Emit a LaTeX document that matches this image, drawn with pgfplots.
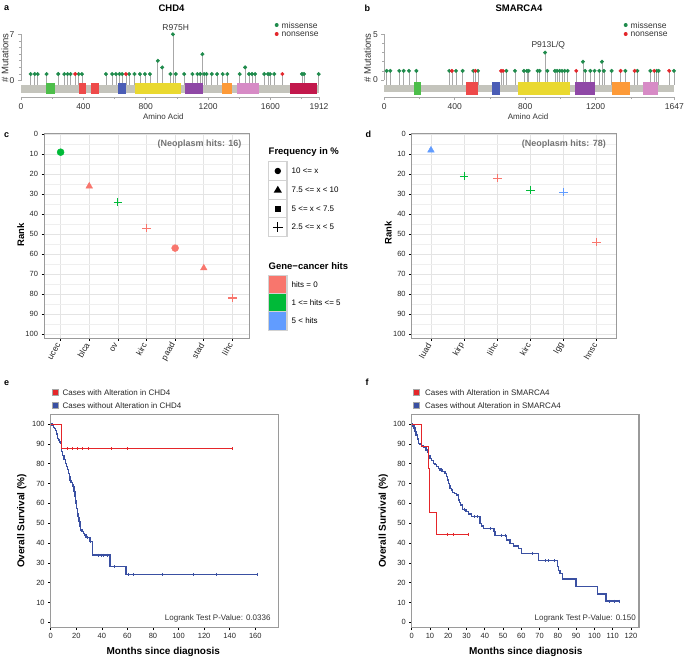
\documentclass[border=0pt]{standalone}
\usepackage{pgfplots}
\usepackage{pgfplotstable}
\pgfplotsset{compat=1.18}
\usepackage{fontspec}
\setmainfont{Liberation Sans}
\newcommand{\fs}[1]{\fontsize{#1}{#1}\selectfont}
\definecolor{cSal}{HTML}{F8766D}
\definecolor{cGrn}{HTML}{00BA38}
\definecolor{cBlu}{HTML}{619CFF}
\definecolor{missG}{HTML}{1F8B4C}
\definecolor{nonR}{HTML}{E3262B}
\definecolor{stemG}{HTML}{A8A8A8}
\definecolor{barG}{HTML}{C4C4BC}
\definecolor{dGreen}{HTML}{4DBE4A}
\definecolor{dRed}{HTML}{EE4A4A}
\definecolor{dBlue}{HTML}{4B5DB6}
\definecolor{dYellow}{HTML}{EAD930}
\definecolor{dPurple}{HTML}{8F48A6}
\definecolor{dOrange}{HTML}{FD9A38}
\definecolor{dPink}{HTML}{D78BC6}
\definecolor{dCrimson}{HTML}{C2184C}
\definecolor{kmRed}{HTML}{E5262A}
\definecolor{kmBlue}{HTML}{3A50A2}
\definecolor{frameG}{HTML}{9A9A9A}
\definecolor{gridG}{HTML}{E4E4E4}
\pgfplotsset{every axis/.append style={/pgf/number format/assume math mode=true, /pgf/number format/1000 sep={}}}

\pgfplotstableread{
x h
62 1
88 1
107 1
164 1
239 1
278 1
299 1
318 1
370 1
391 1
545 1
585 1
609 1
632 1
649 1
694 1
728 1
763 1
795 1
827 1
878 3
906 2
959 1
975 7
993 1
1047 1
1100 1
1132 1
1150 1
1164 4
1175 1
1190 1
1224 1
1258 1
1294 1
1324 1
1403 1
1438 2
1463 1
1482 1
1502 1
1561 1
1585 1
1598 1
1625 1
1803 1
1816 1
1910 1
}\chdmis
\pgfplotstableread{
x h
348 1
673 1
1677 1
}\chdnon
\pgfplotstableread{
x h
13 1
34 1
85 1
110 1
140 1
182 1
369 1
407 1
445 1
505 1
532 1
693 1
742 1
793 1
810 1
820 1
871 1
882 1
913 3
926 1
969 1
981 1
996 1
1009 1
1024 1
1041 1
1128 2
1141 1
1170 1
1194 1
1221 1
1236 2
1247 1
1291 1
1369 1
1437 1
1511 1
1547 1
1558 1
1645 1
}\smamis
\pgfplotstableread{
x h
384 1
517 1
663 1
674 1
1090 1
1342 1
1422 1
1533 1
1618 1
}\smanon

\begin{document}
\begin{tikzpicture}
\path[use as bounding box] (0pt,0pt) rectangle (685pt,-657pt);

% ---------------- panel a
\def\dtop{-0.35}\def\dbot{-2.01}
\begin{axis}[
  at={(21pt,-34.3pt)}, anchor=north west,
  scale only axis, width=298pt, height=62.7pt,
  xmin=0, xmax=1912, ymin=-2.47, ymax=7, clip=false,
  axis x line*=bottom, axis y line*=left,
  x axis line style={draw=stemG, line width=0.8pt, -},
  y axis line style={draw=none, -},
  xtick={0,400,800,1200,1600,1912}, ytick={0,7},
  minor xtick={200,600,1000,1400,1800}, minor ytick={1,...,6},
  tick align=outside, major tick length=3pt, minor tick length=2pt,
  tick style={draw=stemG, line width=0.6pt},
  xticklabel style={font=\fs{8.5}, text=black!80},
  yticklabel style={font=\fs{8.5}, text=black!80},
]
\addplot[stemG, line width=0.7pt, quiver={u=0, v=\thisrow{h}+0.65}] table[x=x, y expr=-0.65] {\chdmis};
\addplot[stemG, line width=0.7pt, quiver={u=0, v=\thisrow{h}+0.65}] table[x=x, y expr=-0.65] {\chdnon};
\draw[stemG, line width=0.8pt] (axis cs:0,0) -- (axis cs:0,7);
\fill[barG] (axis cs:0,-0.65) rectangle (axis cs:1912,-1.81);
\fill[dGreen] (axis cs:160,\dtop) rectangle (axis cs:218,\dbot);
\fill[dRed] (axis cs:370,\dtop) rectangle (axis cs:419,\dbot);
\fill[dRed] (axis cs:451,\dtop) rectangle (axis cs:498,\dbot);
\fill[dBlue] (axis cs:622,\dtop) rectangle (axis cs:673,\dbot);
\fill[dYellow] (axis cs:731,\dtop) rectangle (axis cs:1025,\dbot);
\fill[dPurple] (axis cs:1051,\dtop) rectangle (axis cs:1168,\dbot);
\fill[dOrange] (axis cs:1292,\dtop) rectangle (axis cs:1354,\dbot);
\fill[dPink] (axis cs:1384,\dtop) rectangle (axis cs:1525,\dbot);
\fill[dCrimson] (axis cs:1728,\dtop) rectangle (axis cs:1899,\dbot);
\addplot[only marks, mark=*, mark size=1.8pt, missG] table[x=x, y=h] {\chdmis};
\addplot[only marks, mark=*, mark size=1.8pt, nonR] table[x=x, y=h] {\chdnon};
\end{axis}

% ---------------- panel b
\def\dtop{-0.27}\def\dbot{-1.64}
\begin{axis}[
  at={(384.3pt,-34.3pt)}, anchor=north west,
  scale only axis, width=290pt, height=62.7pt,
  xmin=0, xmax=1647, ymin=-1.86, ymax=5, clip=false,
  axis x line*=bottom, axis y line*=left,
  x axis line style={draw=stemG, line width=0.8pt, -},
  y axis line style={draw=none, -},
  xtick={0,400,800,1200,1647}, ytick={0,5},
  minor xtick={200,600,1000,1400}, minor ytick={1,...,4},
  tick align=outside, major tick length=3pt, minor tick length=2pt,
  tick style={draw=stemG, line width=0.6pt},
  xticklabel style={font=\fs{8.5}, text=black!80},
  yticklabel style={font=\fs{8.5}, text=black!80},
]
\addplot[stemG, line width=0.7pt, quiver={u=0, v=\thisrow{h}+0.55}] table[x=x, y expr=-0.55] {\smamis};
\addplot[stemG, line width=0.7pt, quiver={u=0, v=\thisrow{h}+0.55}] table[x=x, y expr=-0.55] {\smanon};
\draw[stemG, line width=0.8pt] (axis cs:0,0) -- (axis cs:0,5);
\fill[barG] (axis cs:0,-0.55) rectangle (axis cs:1647,-1.35);
\fill[dGreen] (axis cs:170,\dtop) rectangle (axis cs:206,\dbot);
\fill[dRed] (axis cs:464,\dtop) rectangle (axis cs:532,\dbot);
\fill[dBlue] (axis cs:611,\dtop) rectangle (axis cs:657,\dbot);
\fill[dYellow] (axis cs:761,\dtop) rectangle (axis cs:1054,\dbot);
\fill[dPurple] (axis cs:1085,\dtop) rectangle (axis cs:1198,\dbot);
\fill[dOrange] (axis cs:1291,\dtop) rectangle (axis cs:1395,\dbot);
\fill[dPink] (axis cs:1467,\dtop) rectangle (axis cs:1556,\dbot);
\addplot[only marks, mark=*, mark size=1.8pt, missG] table[x=x, y=h] {\smamis};
\addplot[only marks, mark=*, mark size=1.8pt, nonR] table[x=x, y=h] {\smanon};
\end{axis}

% labels a/b
\node[anchor=west, font=\bfseries\fs{9}] at (0.5pt,-8.5pt) {a};
\node[anchor=west, font=\bfseries\fs{9}] at (361pt,-8.5pt) {b};
\node[font=\bfseries\fs{9.5}] at (171.5pt,-8.5pt) {CHD4};
\node[font=\bfseries\fs{9.5}] at (519pt,-8.5pt) {SMARCA4};
\node[rotate=90, font=\fs{9.5}, text=black!80, inner sep=0pt] at (5pt,-58pt) {\# Mutations};
\node[rotate=90, font=\fs{9.5}, text=black!80, inner sep=0pt] at (367.5pt,-58pt) {\# Mutations};
\node[font=\fs{8}, text=black!80] at (163.3pt,-117pt) {Amino Acid};
\node[font=\fs{8}, text=black!80] at (528pt,-117pt) {Amino Acid};
\node[font=\fs{8.5}, text=black!80] at (175.7pt,-27.3pt) {R975H};
\node[font=\fs{8.5}, text=black!80] at (548.3pt,-45.7pt) {P913L/Q};
\fill[missG] (276.7pt,-25pt) circle (2pt);
\fill[nonR] (276.7pt,-34pt) circle (2pt);
\node[anchor=west, font=\fs{8.5}, text=black!80, inner sep=1pt] at (280.5pt,-25pt) {missense};
\node[anchor=west, font=\fs{8.5}, text=black!80, inner sep=1pt] at (280.5pt,-34pt) {nonsense};
\fill[missG] (625.7pt,-25pt) circle (2pt);
\fill[nonR] (625.7pt,-34pt) circle (2pt);
\node[anchor=west, font=\fs{8.5}, text=black!80, inner sep=1pt] at (629.5pt,-25pt) {missense};
\node[anchor=west, font=\fs{8.5}, text=black!80, inner sep=1pt] at (629.5pt,-34pt) {nonsense};

% ---------------- panel c
\pgfplotsset{rankaxis/.style={
  anchor=north west, scale only axis, height=205pt,
  ymin=-0.6, ymax=102, y dir=reverse,
  ytick={0,10,...,100}, minor ytick={5,15,...,95},
  xmajorgrids, ymajorgrids, yminorgrids,
  major grid style={gridG, line width=0.6pt},
  minor grid style={gridG!60, line width=0.5pt},
  axis line style={frameG, line width=0.8pt},
  tick align=outside, tick pos=left, major tick length=2.5pt, minor tick length=0pt,
  tick style={black, line width=0.6pt},
  yticklabel style={font=\fs{7.5}, text=black!85},
  xticklabel style={font=\fs{8.5}, text=black!85, rotate=60, anchor=east},
}}
\begin{axis}[rankaxis, at={(44pt,-133pt)}, width=205.3pt,
  xmin=0.42, xmax=7.59, xtick={1,...,7},
  xticklabels={ucec,blca,ov,kirc,paad,stad,lihc}]
\addplot[only marks, mark=*, mark size=3.5pt, cGrn] coordinates {(1,9)};
\addplot[only marks, mark=triangle*, mark size=3.8pt, cSal] coordinates {(2,26)};
\addplot[only marks, mark=+, mark size=4.3pt, line width=1.2pt, cGrn] coordinates {(3,34)};
\addplot[only marks, mark=+, mark size=4.3pt, line width=1.2pt, cSal] coordinates {(4,47)};
\addplot[only marks, mark=*, mark size=3.5pt, cSal] coordinates {(5,57)};
\addplot[only marks, mark=triangle*, mark size=3.8pt, cSal] coordinates {(6,67)};
\addplot[only marks, mark=+, mark size=4.3pt, line width=1.2pt, cSal] coordinates {(7,82)};
\end{axis}

% ---------------- panel d
\begin{axis}[rankaxis, at={(411.7pt,-133pt)}, width=204.3pt,
  xmin=0.42, xmax=6.58, xtick={1,...,6},
  xticklabels={luad,kirp,lihc,kirc,lgg,hnsc}]
\addplot[only marks, mark=triangle*, mark size=3.8pt, cBlu] coordinates {(1,8)};
\addplot[only marks, mark=+, mark size=4.3pt, line width=1.2pt, cGrn] coordinates {(2,21)};
\addplot[only marks, mark=+, mark size=4.3pt, line width=1.2pt, cSal] coordinates {(3,22)};
\addplot[only marks, mark=+, mark size=4.3pt, line width=1.2pt, cGrn] coordinates {(4,28)};
\addplot[only marks, mark=+, mark size=4.3pt, line width=1.2pt, cBlu] coordinates {(5,29)};
\addplot[only marks, mark=+, mark size=4.3pt, line width=1.2pt, cSal] coordinates {(6,54)};
\end{axis}

\node[anchor=west, font=\bfseries\fs{9}] at (0.5pt,-135pt) {c};
\node[anchor=west, font=\bfseries\fs{9}] at (362pt,-134pt) {d};
\node[anchor=east, font=\bfseries\fs{9}, text=black!55] at (245pt,-144pt) {(Neoplasm hits: 16)};
\node[anchor=east, font=\bfseries\fs{9}, text=black!55] at (609.3pt,-144pt) {(Neoplasm hits: 78)};
\node[rotate=90, font=\bfseries\fs{9.5}] at (20.7pt,-235pt) {Rank};
\node[rotate=90, font=\bfseries\fs{9.5}] at (388.3pt,-233pt) {Rank};

% legend: frequency
\node[anchor=west, font=\bfseries\fs{9.5}, inner sep=0pt] at (268.5pt,-152pt) {Frequency in \%};
\foreach \yy in {161.7,180.4,199.1,217.8}{
  \draw[gray!35, line width=1.2pt, fill=white] (268.7pt,-\yy pt) rectangle (287pt,-\yy pt-18.7pt);
}
\fill (277.8pt,-171pt) circle (3.2pt);
\fill (277.8pt,-185.8pt) -- (281.9pt,-192.6pt) -- (273.7pt,-192.6pt) -- cycle;
\fill (274.8pt,-205.5pt) rectangle (280.8pt,-211.5pt);
\draw[line width=1.2pt] (272.8pt,-227.2pt) -- (282.8pt,-227.2pt) (277.8pt,-222.2pt) -- (277.8pt,-232.2pt);
\node[anchor=west, font=\fs{8}, inner sep=0pt] at (291.5pt,-171pt) {10 <= x};
\node[anchor=west, font=\fs{8}, inner sep=0pt] at (291.5pt,-189.7pt) {7.5 <= x < 10};
\node[anchor=west, font=\fs{8}, inner sep=0pt] at (291.5pt,-208.4pt) {5 <= x < 7.5};
\node[anchor=west, font=\fs{8}, inner sep=0pt] at (291.5pt,-227.2pt) {2.5 <= x < 5};

% legend: gene-cancer hits
\node[anchor=west, font=\bfseries\fs{9.5}, inner sep=0pt] at (268.5pt,-265.7pt) {Gene−cancer hits};
\draw[gray!35, line width=1.2pt, fill=cSal] (268.7pt,-275.2pt) rectangle (287pt,-293.5pt);
\draw[gray!35, line width=1.2pt, fill=cGrn] (268.7pt,-293.5pt) rectangle (287pt,-311.8pt);
\draw[gray!35, line width=1.2pt, fill=cBlu] (268.7pt,-311.8pt) rectangle (287pt,-330.1pt);
\node[anchor=west, font=\fs{8}, inner sep=0pt] at (291.5pt,-284.3pt) {hits = 0};
\node[anchor=west, font=\fs{8}, inner sep=0pt] at (291.5pt,-302.6pt) {1 <= hits <= 5};
\node[anchor=west, font=\fs{8}, inner sep=0pt] at (291.5pt,-320.9pt) {5 < hits};

% ---------------- panel e
\pgfplotsset{kmaxis/.style={
  anchor=north west, scale only axis, height=213.4pt,
  ymin=-2.7, ymax=104.9, ytick={0,10,...,100},
  axis line style={frameG, line width=1.3pt},
  tick align=outside, tick pos=left, major tick length=2.5pt,
  tick style={black, line width=0.6pt},
  ticklabel style={font=\fs{7.5}, text=black!85},
}}
\begin{axis}[kmaxis, at={(50.7pt,-414.3pt)}, width=227.6pt,
  xmin=0, xmax=178, xtick={0,20,...,160}]
\addplot[kmBlue, line width=1.3pt, const plot] coordinates {
(0,100)(1,99.2)(2,98.4)(3,97.6)(4,96.6)(4.8,95)(5.2,92.8)(6,92)(7,91)(7.8,90.3)(8.2,88)(8.6,86)(9.5,84)(10.5,82)(11.5,80)(12.5,78.5)(13.2,77)(13.8,75.1)(14.5,73.5)(15.2,71.6)(15.8,70.4)(16.8,69.5)(17.7,68.4)(18.3,66)(19,63.3)(19.5,61.5)(19.8,60)(20.3,57.5)(20.8,55)(21.5,52.8)(22.2,50.7)(22.8,48.5)(23.5,46.5)(24.5,45.7)(25.5,44.9)(26.5,44)(27.6,42.9)(30.8,40.6)(32.9,33.9)(46.4,28)(59,24.2)(162,24.2)};
\addplot[kmBlue, only marks, mark=|, mark size=1.6pt, line width=0.6pt] coordinates {
(13.5,76)(17,69)(21,54)(26,44.5)(28.5,42.9)(31,40.6)(37.3,33.9)(39.6,33.9)(41.5,33.9)(44,33.9)(49.6,28)(60.8,24.2)(64.7,24.2)(86.9,24.2)(111.2,24.2)(129.4,24.2)(161.3,24.2)};
\addplot[kmRed, line width=1pt, const plot] coordinates {(0,100)(8.6,87.5)(142.2,87.5)};
\addplot[kmRed, only marks, mark=|, mark size=1.6pt, line width=0.6pt] coordinates {
(12.8,87.5)(17.2,87.5)(21,87.5)(24.8,87.5)(29.7,87.5)(47.7,87.5)(60,87.5)(142.2,87.5)};
\end{axis}

% ---------------- panel f
\begin{axis}[kmaxis, at={(411.7pt,-414.3pt)}, width=227.3pt,
  xmin=0, xmax=124.4, xtick={0,10,...,120}]
\addplot[kmBlue, line width=1.3pt, const plot] coordinates {
(0,100)(0.6,99)(1.2,98)(1.8,96.1)(2.4,94.5)(3,92.5)(3.6,90.3)(4.5,89.6)(5.5,88.9)(6.5,88)(7.8,86.9)(8.5,85.5)(9.2,84)(10,82.7)(11,81.5)(11.8,80.2)(12.8,79.5)(13.7,78.5)(14.6,77.6)(15.5,76.8)(16.8,76)(18.2,75.1)(19.2,73.4)(19.6,71.8)(20,70.1)(20.5,68.8)(21,67.6)(21.7,66.5)(22.4,65.4)(23.5,64.8)(24.6,64.2)(25.5,61.7)(26.2,60.5)(26.8,59.2)(27.7,57)(29.7,55.8)(31,54.6)(32.8,53.3)(37.4,49.9)(38.3,48.6)(39.2,47.4)(45,45.7)(45.6,43.9)(52,41.5)(53.8,39.8)(55.6,38.5)(58.3,37.3)(60.2,34.8)(69.3,31.1)(79.7,28)(80.5,26.2)(81.2,24.7)(82.6,21.8)(89.9,18)(101.8,14.3)(106.3,10.7)(113.6,10.7)};
\addplot[kmBlue, only marks, mark=|, mark size=1.6pt, line width=0.6pt] coordinates {
(16,76.8)(22,66.5)(29,57)(34,53.3)(36,53.3)(43,47.4)(49,43.9)(51,43.9)(66,34.8)(73,31.1)(75,31.1)(78,31.1)(108,10.7)(111,10.7)(113.6,10.7)};
\addplot[kmRed, line width=1pt, const plot] coordinates {(0,100)(5.1,88.9)(9.1,77.8)(9.6,66.7)(10,55.6)(13.3,44.4)(31,44.4)};
\addplot[kmRed, only marks, mark=|, mark size=1.6pt, line width=0.6pt] coordinates {(19.5,44.4)(22.8,44.4)(31,44.4)};
\end{axis}

\node[anchor=west, font=\bfseries\fs{9}] at (0.5pt,-383pt) {e};
\node[anchor=west, font=\bfseries\fs{9}] at (362pt,-382pt) {f};
% legends e/f
\draw[gray!70, line width=1pt, fill=kmRed] (52.3pt,-389pt) rectangle (58.7pt,-395.4pt);
\draw[gray!70, line width=1pt, fill=kmBlue] (52.3pt,-402pt) rectangle (58.7pt,-408.4pt);
\node[anchor=west, font=\fs{8}, inner sep=0pt, text=black!85] at (62.5pt,-392.3pt) {Cases with Alteration in CHD4};
\node[anchor=west, font=\fs{8}, inner sep=0pt, text=black!85] at (62.5pt,-405.3pt) {Cases without Alteration in CHD4};
\draw[gray!70, line width=1pt, fill=kmRed] (413.5pt,-389.5pt) rectangle (419.9pt,-395.9pt);
\draw[gray!70, line width=1pt, fill=kmBlue] (413.5pt,-402.5pt) rectangle (419.9pt,-408.9pt);
\node[anchor=west, font=\fs{8}, inner sep=0pt, text=black!85] at (425pt,-392.7pt) {Cases with Alteration in SMARCA4};
\node[anchor=west, font=\fs{8}, inner sep=0pt, text=black!85] at (425pt,-405.7pt) {Cases without Alteration in SMARCA4};
\node[rotate=90, font=\bfseries\fs{10}] at (21.7pt,-521pt) {Overall Survival (\%)};
\node[rotate=90, font=\bfseries\fs{10}] at (383.3pt,-521pt) {Overall Survival (\%)};
\node[font=\bfseries\fs{10}] at (163.3pt,-651.5pt) {Months since diagnosis};
\node[font=\bfseries\fs{10}] at (525.8pt,-651.5pt) {Months since diagnosis};
\node[anchor=east, font=\fs{8}, inner sep=0pt, text=black!80] at (270.7pt,-618.3pt) {Logrank Test P-Value: 0.0336};
\node[anchor=east, font=\fs{8}, inner sep=0pt, text=black!80] at (636pt,-618.3pt) {Logrank Test P-Value: 0.150};
\end{tikzpicture}
\end{document}
